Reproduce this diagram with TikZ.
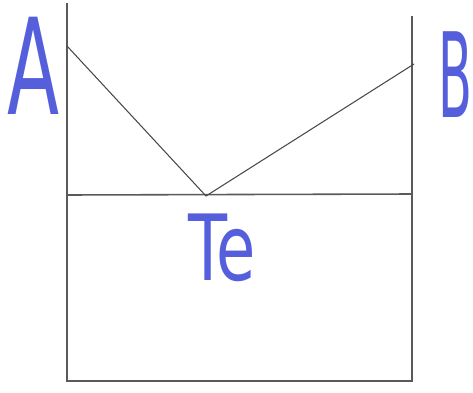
\documentclass[tikz,border=0pt]{standalone}
\usepackage{fontspec}
\setmainfont{DejaVu Sans}
\usetikzlibrary{positioning}
\definecolor{penblue}{RGB}{85,95,220}
\definecolor{pengray}{RGB}{90,90,90}

\begin{document}
\begin{tikzpicture}[x=0.02cm,y=-0.02cm,
    axisline/.style={draw=pengray,line width=0.9pt},
    curveline/.style={draw=pengray!80!black,line width=0.6pt},
    biglabel/.style={text=penblue,inner sep=0pt}]
  \useasboundingbox (0,0) rectangle (473,392);
  % frame
  \coordinate (ltop) at (67,3);
  \coordinate (lbot) at (67,381);
  \coordinate (rtop) at (412,16);
  \coordinate (rbot) at (412,381);
  \coordinate (eutl) at (67,195);
  \coordinate (eutr) at (412,194);
  \coordinate (te) at (206,196);
  \coordinate (meltA) at (67,46);
  \coordinate (meltB) at (414,64);
  \draw[axisline] (ltop) -- (lbot) -- (rbot) -- (rtop);
  \draw[axisline] (eutl) -- (eutr);
  % liquidus
  \draw[curveline] (meltA) -- (te) -- (meltB);
  % labels
  \node[biglabel] (labA) at (34,66)
    {\scalebox{0.57}[1]{\fontsize{76}{76}\selectfont A}};
  \node[biglabel] (labB) at (455,75)
    {\scalebox{0.42}[1]{\fontsize{67}{67}\selectfont B}};
  \node[biglabel] (labTe) at (222,248)
    {\scalebox{0.7}[1]{\fontsize{52}{52}\selectfont Te}};
\end{tikzpicture}
\end{document}
